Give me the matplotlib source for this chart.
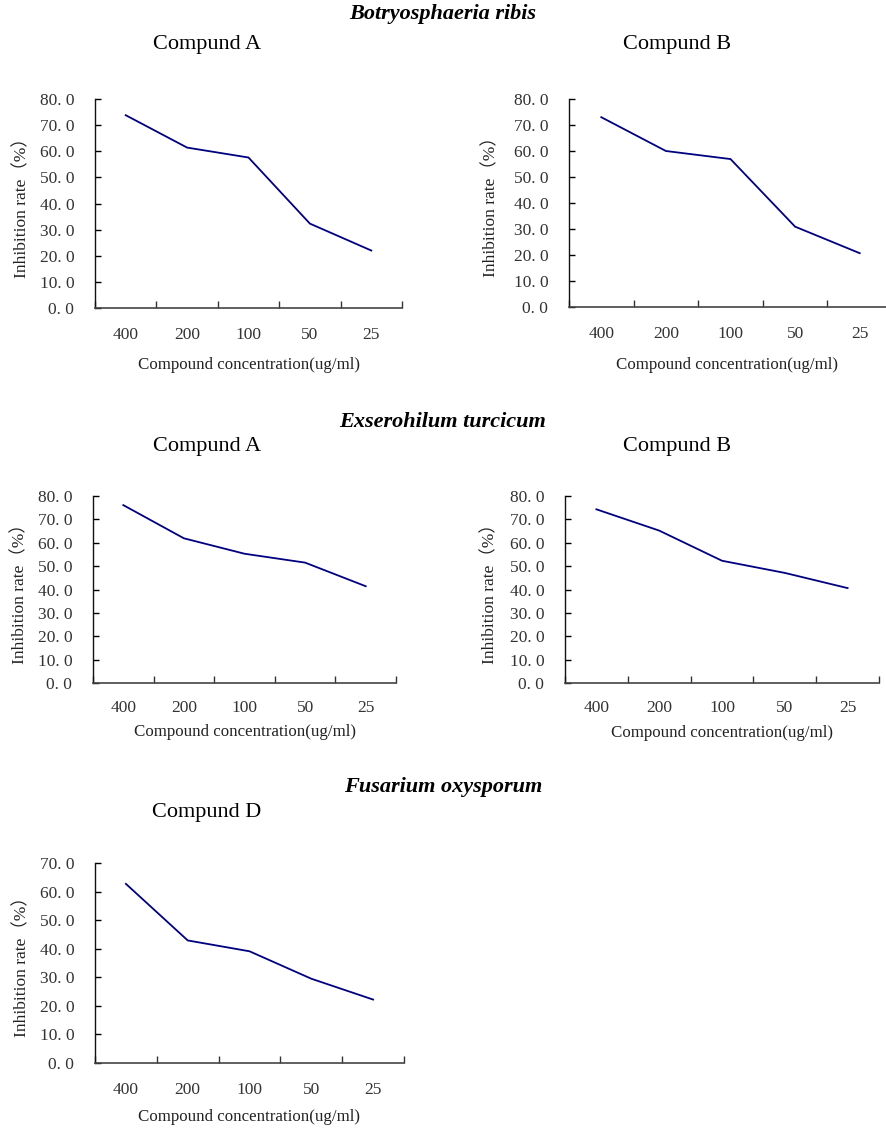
import matplotlib
matplotlib.use("Agg")
import matplotlib.pyplot as plt
import numpy as np

# ---- data ----
concentrations = ["400", "200", "100", "50", "25"]
br_compound_a = [73.8, 61.4, 57.6, 32.3, 22.0]
br_compound_b = [73.0, 60.0, 56.9, 30.9, 20.7]
et_compound_a = [76.1, 61.9, 55.3, 51.5, 41.4]
et_compound_b = [74.3, 65.2, 52.3, 47.1, 40.6]
fo_compound_d = [62.7, 42.9, 39.1, 29.5, 22.2]

yticks_80 = [0, 10, 20, 30, 40, 50, 60, 70, 80]
yticks_70 = [0, 10, 20, 30, 40, 50, 60, 70]

W, H = 886, 1128
fig = plt.figure(figsize=(W / 100, H / 100), dpi=100)
fig.patch.set_facecolor("white")

serif = ["Liberation Serif", "Noto Sans CJK SC", "DejaVu Serif"]
line_color = "#000080"
tick_color = "#333333"


def add_axes_px(left, top, right, bottom):
    return fig.add_axes([left / W, 1 - bottom / H, (right - left) / W, (bottom - top) / H])


def panel(box, values, yticks, ylabel_x, xlabel_y, xpad):
    ax = add_axes_px(*box)
    x = np.arange(len(concentrations))
    ax.plot(x, values, color=line_color, lw=1.3, solid_joinstyle="miter")
    ax.set_xlim(-0.5, len(concentrations) - 0.5)
    ax.set_ylim(yticks[0], yticks[-1])
    ax.set_xticks(x)
    ax.set_xticklabels(concentrations, fontsize=12.5, family=serif, color=tick_color)
    ax.set_xticks(np.arange(-0.5, len(concentrations)), minor=True)
    ax.tick_params(axis="x", which="major", length=0, pad=xpad)
    ax.tick_params(axis="x", which="minor", length=5, direction="in", width=1, color="#333333")
    ax.set_yticks(yticks)
    ax.set_yticklabels(["%d. 0" % v for v in yticks], fontsize=12.5, family=serif, color=tick_color)
    ax.tick_params(axis="y", length=4, direction="in", width=1, pad=15)
    for s in ("top", "right"):
        ax.spines[s].set_visible(False)
    ax.spines["left"].set_color("#111111")
    ax.spines["bottom"].set_color("#444444")
    ax.spines["left"].set_linewidth(1.0)
    ax.spines["bottom"].set_linewidth(1.2)
    ax.patch.set_visible(False)
    left, top, right, bottom = box
    fig.text(ylabel_x / W, 1 - ((top + bottom) / 2) / H, "Inhibition rate\uff08%\uff09",
             rotation=90, ha="center", va="center", fontsize=12.5, family=serif, color="#222222")
    fig.text(((left + min(right, W)) / 2) / W, 1 - xlabel_y / H,
             "Compound concentration(ug/ml)", ha="center", va="center",
             fontsize=12.2, family=serif, color="#222222")
    return ax


def txt(x, y, s, **kw):
    fig.text(x / W, 1 - y / H, s, ha="center", va="center", family=serif, **kw)


# Row 1: Botryosphaeria ribis
txt(443, 14, "Botryosphaeria ribis", fontsize=16, weight="bold", style="italic")
txt(207, 45, "Compund A", fontsize=16)
txt(677, 45, "Compund B", fontsize=16)
panel((95, 99, 402, 308), br_compound_a, yticks_80, 22, 365, 14)
panel((569, 99, 892, 307), br_compound_b, yticks_80, 491, 365, 14)

# Row 2: Exserohilum turcicum
txt(443, 422, "Exserohilum turcicum", fontsize=16, weight="bold", style="italic")
txt(207, 447, "Compund A", fontsize=16)
txt(677, 447, "Compund B", fontsize=16)
panel((93, 496, 396, 683), et_compound_a, yticks_80, 20, 732, 12)
panel((565, 496, 879, 683), et_compound_b, yticks_80, 490, 733, 12)

# Row 3: Fusarium oxysporum
txt(443, 787, "Fusarium oxysporum", fontsize=16, weight="bold", style="italic")
txt(207, 812, "Compund D", fontsize=16)
panel((95, 863, 404, 1063), fo_compound_d, yticks_70, 22, 1117, 14)

fig.savefig("out.png", dpi=100)
